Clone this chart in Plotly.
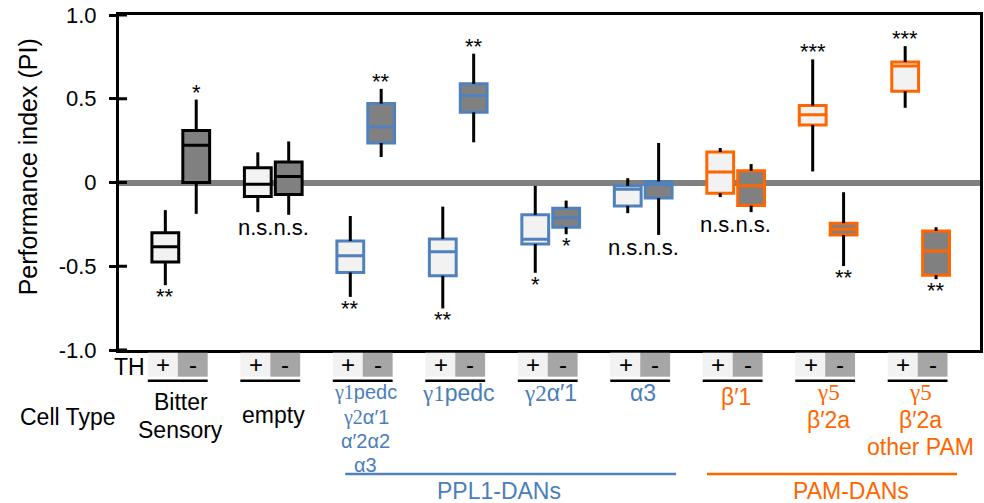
import plotly.graph_objects as go

# ---------------- data ----------------
group_lines = [
    ["Bitter", "Sensory"],
    ["empty"],
    ['<span style="font-family:Liberation Serif">γ1</span>pedc',
     '<span style="font-family:Liberation Serif">γ2</span>α′1', "α′2α2", "α3"],
    ['<span style="font-family:Liberation Serif">γ1</span>pedc'],
    ['<span style="font-family:Liberation Serif">γ2</span>α′1'],
    ["α3"],
    ["β′1"],
    ['<span style="font-family:Liberation Serif">γ5</span>', "β′2a"],
    ['<span style="font-family:Liberation Serif">γ5</span>', "β′2a", "other PAM"],
]
group_family = ["ctrl", "ctrl", "PPL1", "PPL1", "PPL1", "PPL1", "PAM", "PAM", "PAM"]

# TH + (light boxes)
plus_lower = [-0.613, -0.177, -0.683, -0.752, -0.539, -0.183, -0.087, 0.066, 0.446]
plus_q1 = [-0.475, -0.084, -0.537, -0.557, -0.367, -0.140, -0.064, 0.344, 0.545]
plus_med = [-0.383, -0.010, -0.437, -0.413, -0.339, -0.040, 0.062, 0.405, 0.695]
plus_q3 = [-0.300, 0.088, -0.349, -0.337, -0.193, -0.020, 0.182, 0.459, 0.719]
plus_upper = [-0.165, 0.180, -0.200, -0.144, -0.020, 0.026, 0.206, 0.735, 0.814]
plus_sig = ["**", "n.s.", "**", "**", "*", "n.s.", "n.s.", "***", "***"]

# TH - (dark boxes)
minus_lower = [-0.187, -0.193, 0.152, 0.240, -0.309, -0.313, -0.177, -0.499, -0.577]
minus_q1 = [0.000, -0.072, 0.236, 0.419, -0.267, -0.093, -0.138, -0.313, -0.553]
minus_med = [0.222, 0.036, 0.332, 0.519, -0.210, -0.014, -0.020, -0.279, -0.409]
minus_q3 = [0.310, 0.122, 0.471, 0.589, -0.153, 0.006, 0.070, -0.243, -0.289]
minus_upper = [0.495, 0.245, 0.559, 0.769, -0.108, 0.236, 0.110, -0.058, -0.267]
minus_sig = ["*", "n.s.", "**", "**", "*", "n.s.", "n.s.", "**", "**"]

y_tickvals = [-1.0, -0.5, 0.0, 0.5, 1.0]
y_ticktext = ["-1.0", "-0.5", "0", "0.5", "1.0"]

# ---------------- style ----------------
FONT = "Liberation Sans, Arial, sans-serif"
border = {"ctrl": "#000000", "PPL1": "#4f81bd", "PAM": "#ff6600"}
textcol = {"ctrl": "#000000", "PPL1": "#4a7ebb", "PAM": "#ff6600"}
LIGHT, DARK = "#f2f2f2", "#808080"
OFF, BW = 0.167, 0.29

W, H = 984, 503
ML, MR, MT, MB = 119, 1, 15, 153
PW, PH = W - ML - MR, H - MT - MB


def Xp(px):
    return (px - ML) / PW


def Yp(py):
    return (H - MB - py) / PH


def txt(x, y, text, size=23, color="black", xref="x", yref="paper", **kw):
    d = dict(x=x, y=y, xref=xref, yref=yref, text=text, showarrow=False,
             xanchor="center", yanchor="middle",
             font=dict(size=size, color=color, family=FONT))
    d.update(kw)
    return d


fig = go.Figure()

whx, why = [], []
for i in range(len(group_lines)):
    fam = group_family[i]
    for sgn, q1, med, q3, lo, up, fill in [
        (-1, plus_q1, plus_med, plus_q3, plus_lower, plus_upper, LIGHT),
        (1, minus_q1, minus_med, minus_q3, minus_lower, minus_upper, DARK),
    ]:
        xx = i + sgn * OFF
        fig.add_trace(go.Box(
            x=[xx], q1=[q1[i]], median=[med[i]], q3=[q3[i]],
            lowerfence=[q1[i]], upperfence=[q3[i]],
            width=BW, fillcolor=fill, whiskerwidth=0,
            line=dict(color=border[fam], width=3),
            boxpoints=False, showlegend=False, hoverinfo="skip"))
        whx += [xx, xx, None, xx, xx, None]
        why += [lo[i], q1[i], None, q3[i], up[i], None]

fig.add_trace(go.Scatter(x=whx, y=why, mode="lines",
                         line=dict(color="black", width=3),
                         showlegend=False, hoverinfo="skip"))

ann = []
# significance labels
for i in range(len(group_lines)):
    if plus_sig[i] == "n.s." and minus_sig[i] == "n.s.":
        ann.append(txt(i, min(plus_lower[i], minus_lower[i]), "n.s.n.s.", size=22,
                       yref="y", yanchor="top", yshift=2))
        continue
    for sgn, sig, med, lo, up in [(-1, plus_sig, plus_med, plus_lower, plus_upper),
                                  (1, minus_sig, minus_med, minus_lower, minus_upper)]:
        xx = i + sgn * OFF
        if med[i] > 0:
            ann.append(txt(xx, up[i], sig[i], size=22, yref="y", yanchor="bottom", yshift=-7))
        else:
            ann.append(txt(xx, lo[i], sig[i], size=22, yref="y", yanchor="top", yshift=3))

shapes = []
# inner half of y ticks
for v in y_tickvals:
    shapes.append(dict(type="line", xref="paper", yref="y", x0=0, x1=8 / PW, y0=v, y1=v,
                       line=dict(color="black", width=3)))

# TH +/- header and group labels
line_y = {
    0: [401.7, 430], 1: [415], 2: [393, 417, 441, 465], 3: [393], 4: [393], 5: [393],
    6: [397], 7: [392, 420], 8: [392, 420, 447],
}
line_size = {2: 20}
for i in range(len(group_lines)):
    shapes.append(dict(type="rect", xref="x", yref="paper", x0=i - 0.356, x1=i - 0.032,
                       y0=Yp(376.7), y1=Yp(352.7), fillcolor=LIGHT, line=dict(width=0)))
    shapes.append(dict(type="rect", xref="x", yref="paper", x0=i - 0.032, x1=i + 0.291,
                       y0=Yp(376.7), y1=Yp(352.7), fillcolor="#a6a6a6", line=dict(width=0)))
    shapes.append(dict(type="line", xref="x", yref="paper", x0=i - 0.356, x1=i + 0.291,
                       y0=Yp(380.7), y1=Yp(380.7), line=dict(color="black", width=2.5)))
    ann.append(txt(i - 0.19, Yp(365), "+", size=24))
    ann.append(txt(i + 0.13, Yp(365), "-", size=24))
    for k, t in enumerate(group_lines[i]):
        ann.append(txt(i, Yp(line_y[i][k]), t, size=line_size.get(i, 23),
                       color=textcol[group_family[i]]))

ann.append(txt(Xp(130), Yp(366.7), "TH", xref="paper"))
ann.append(txt(Xp(67), Yp(416.7), "Cell Type", xref="paper"))
ann.append(txt(Xp(28), Yp(167), "Performance index (PI)", size=25, xref="paper", textangle=-90))

# family brackets
shapes.append(dict(type="line", xref="x", yref="paper", x0=1.778, x1=5.356,
                   y0=Yp(474), y1=Yp(474), line=dict(color=border["PPL1"], width=2.5)))
shapes.append(dict(type="line", xref="x", yref="paper", x0=5.69, x1=8.394,
                   y0=Yp(474), y1=Yp(474), line=dict(color=border["PAM"], width=2.5)))
ann.append(txt(3.437, Yp(491.5), "PPL1-DANs", color=textcol["PPL1"]))
ann.append(txt(7.247, Yp(491), "PAM-DANs", color=textcol["PAM"]))

fig.update_layout(
    width=W, height=H,
    margin=dict(l=ML, r=MR, t=MT, b=MB, pad=0),
    plot_bgcolor="white", paper_bgcolor="white",
    boxmode="overlay",
    shapes=shapes, annotations=ann,
    font=dict(family=FONT, color="black"),
)
fig.update_xaxes(range=[-0.668, 8.642], showgrid=False, zeroline=False, showticklabels=False,
                 ticks="", showline=True, linecolor="black", linewidth=2.5, mirror=True)
fig.update_yaxes(range=[-1, 1], tickvals=y_tickvals, ticktext=y_ticktext, showgrid=False,
                 zeroline=True, zerolinecolor="#808080", zerolinewidth=6,
                 ticks="outside", ticklen=7, tickwidth=3, tickcolor="black",
                 ticklabelstandoff=8,
                 tickfont=dict(size=22, color="black", family=FONT),
                 showline=True, linecolor="black", linewidth=3, mirror=True)

fig.write_html("out.html")
